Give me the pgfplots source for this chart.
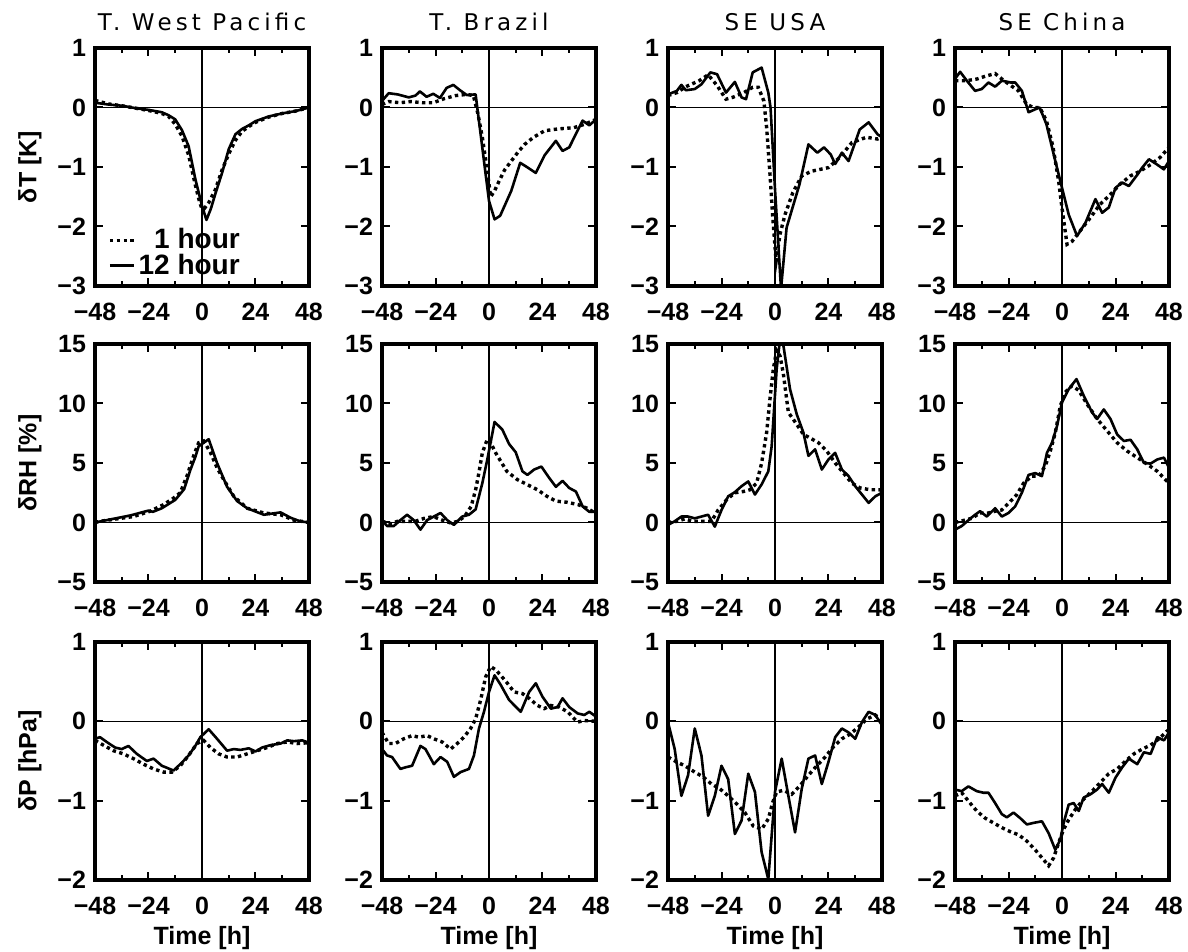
\documentclass[border=0pt]{standalone}
\usepackage{fontspec}
\setmainfont{Liberation Sans}
\newfontfamily\titlefont[LetterSpace=18]{DejaVu Sans}
\usepackage{pgfplots}
\pgfplotsset{compat=1.18}
\pgfplotsset{
  pan/.style={
    scale only axis, width=107pt, height=119pt, anchor=south west,
    xmin=-48, xmax=48,
    xtick={-48,-24,0,24,48}, xticklabels={−48,−24,0,24,48},
    minor xtick={-36,-12,12,36},
    tick align=inside,
    axis line style={line width=2.3pt},
    every tick/.style={black, line width=1pt},
    major tick length=4pt, minor tick length=2.5pt,
    /pgf/number format/assume math mode=true,
    ticklabel style={font=\fontsize{12.5}{14}\selectfont\bfseries},
    xticklabel style={yshift=-5pt},
    yticklabel style={xshift=-1pt},
    every axis title/.style={at={(0.5,1)}, anchor=center, yshift=13pt, font=\titlefont\fontsize{11.5}{13}\selectfont},
    every axis x label/.style={at={(0.5,0)}, anchor=center, yshift=-29pt, font=\fontsize{12.5}{14}\selectfont\bfseries},
    every axis y label/.style={at={(axis description cs:-0.3037,0.5)}, rotate=90, anchor=center, font=\fontsize{12.5}{14}\selectfont\bfseries},
  },
  solid12/.style={black, line width=1.3pt, line join=round},
  dot1/.style={black, line width=1.7pt, dash pattern=on 1.7pt off 1.7pt},
  zl/.style={black, line width=0.8pt, forget plot},
  rowT/.style={ymin=-3, ymax=1, ytick={-3,-2,-1,0,1}, yticklabels={−3,−2,−1,0,1}},
  rowRH/.style={ymin=-5, ymax=15, ytick={-5,0,5,10,15}, yticklabels={−5,0,5,10,15}},
  rowP/.style={ymin=-2, ymax=1, ytick={-2,-1,0,1}, yticklabels={−2,−1,0,1}},
}
\begin{document}
\begin{tikzpicture}
\path[use as bounding box] (0,0) rectangle (594pt,476pt);
% ---------------- Row 1: dT ----------------
\begin{axis}[pan, rowT, at={(47.5pt,333pt)}, title={T. West Pacific}, ylabel={δT [K]},
  legend style={at={(axis description cs:0.06,0.255)}, anchor=north west, draw=none, fill=none,
    font=\fontsize{14}{14}\selectfont\bfseries, row sep=-2pt, inner sep=0pt,
    nodes={inner sep=1.5pt}},
  legend cell align=right,
  legend image code/.code={\draw[#1] (0pt,0pt) -- (12pt,0pt);}]
\addplot[zl] coordinates {(0,-3) (0,1)};
\addplot[zl] coordinates {(-48,0) (48,0)};
\addplot[dot1] coordinates {(-48,0.12) (-42,0.06) (-36,0.03) (-30,-0.01) (-24,-0.05) (-18,-0.1) (-15,-0.15) (-12,-0.28) (-9,-0.48) (-6,-0.8) (-3,-1.3) (-1,-1.6) (0,-1.7) (1,-1.7) (3,-1.6) (6,-1.38) (9,-1.05) (12,-0.78) (15,-0.55) (18,-0.4) (21,-0.32) (24,-0.25) (30,-0.16) (36,-0.1) (42,-0.06) (48,0.0)};
\addlegendentry{1 hour}
\addplot[solid12] coordinates {(-48,0.08) (-42,0.05) (-36,0.03) (-30,-0.01) (-24,-0.04) (-18,-0.08) (-15,-0.13) (-12,-0.2) (-9,-0.38) (-6,-0.65) (-3,-1.2) (0,-1.65) (2,-1.89) (4,-1.7) (6,-1.45) (9,-1.1) (12,-0.7) (15,-0.45) (18,-0.36) (21,-0.3) (24,-0.23) (30,-0.15) (36,-0.1) (42,-0.06) (48,0.0)};
\addlegendentry{12 hour}
\end{axis}

\begin{axis}[pan, rowT, at={(191pt,333pt)}, title={T. Brazil}]
\addplot[zl] coordinates {(0,-3) (0,1)};
\addplot[zl] coordinates {(-48,0) (48,0)};
\addplot[dot1] coordinates {(-48,0.05) (-45,0.1) (-40,0.08) (-35,0.1) (-30,0.08) (-25,0.08) (-20,0.15) (-15,0.2) (-10,0.22) (-7,0.2) (-5,-0.1) (-3,-0.5) (-1,-1.0) (0.75,-1.5) (2.5,-1.4) (4.5,-1.24) (7,-1.05) (10,-0.9) (13,-0.75) (16,-0.62) (20,-0.5) (25,-0.39) (31,-0.36) (38,-0.34) (43,-0.28) (48,-0.2)};
\addplot[solid12] coordinates {(-48,0.11) (-45,0.24) (-41,0.22) (-36,0.17) (-33,0.2) (-31,0.27) (-28,0.18) (-25,0.23) (-22,0.16) (-19,0.33) (-16,0.38) (-13,0.29) (-10,0.21) (-6,0.22) (0,-1.57) (2.5,-1.88) (5,-1.82) (10,-1.4) (14,-0.93) (17,-1.0) (21,-1.1) (25,-0.8) (30,-0.56) (33,-0.73) (36,-0.67) (42,-0.22) (45,-0.3) (48,-0.2)};
\end{axis}

\begin{axis}[pan, rowT, at={(334pt,333pt)}, title={SE USA}]
\addplot[zl] coordinates {(0,-3) (0,1)};
\addplot[zl] coordinates {(-48,0) (48,0)};
\addplot[dot1] coordinates {(-48,0.2) (-44,0.25) (-40,0.35) (-34,0.45) (-30,0.55) (-26,0.37) (-22,0.14) (-19,0.17) (-14,0.25) (-10,0.34) (-7.5,0.34) (-5,0.11) (-3.75,-0.34) (-2.25,-1.12) (-1,-1.85) (0.5,-2.58) (2.25,-2.13) (4.5,-1.8) (8,-1.43) (12,-1.15) (16.5,-1.07) (24,-1.01) (29,-0.84) (34.5,-0.59) (41,-0.5) (46,-0.53) (48,-0.5)};
\addplot[solid12] coordinates {(-48,0.22) (-44,0.28) (-42,0.38) (-40,0.29) (-36,0.31) (-33,0.39) (-29,0.59) (-26,0.56) (-22,0.25) (-18,0.43) (-15,0.17) (-13,0.14) (-10,0.59) (-6,0.67) (-3,0.25) (-2,0.0) (0,-1.37) (2.7,-3.05) (5.2,-2.02) (11,-1.29) (15,-0.62) (19,-0.76) (22,-0.67) (25,-0.79) (27,-0.95) (30,-0.76) (33,-0.9) (38,-0.37) (42,-0.25) (46,-0.45) (48,-0.5)};
\end{axis}

\begin{axis}[pan, rowT, at={(477.5pt,333pt)}, title={SE China}]
\addplot[zl] coordinates {(0,-3) (0,1)};
\addplot[zl] coordinates {(-48,0) (48,0)};
\addplot[dot1] coordinates {(-48,0.45) (-43,0.45) (-38,0.48) (-34,0.53) (-30,0.57) (-26,0.45) (-23,0.37) (-19.5,0.28) (-16,0.06) (-13,0.0) (-10,0.0) (-7,-0.22) (-4,-0.67) (-1.5,-1.24) (0,-1.69) (2.25,-2.3) (4.5,-2.25) (8,-2.08) (12.75,-1.85) (17,-1.63) (21.75,-1.46) (26,-1.29) (30.7,-1.15) (35,-1.07) (39.75,-0.96) (44,-0.84) (48,-0.67)};
\addplot[solid12] coordinates {(-48,0.48) (-45.7,0.6) (-42.7,0.45) (-39,0.28) (-36,0.31) (-33,0.42) (-30,0.35) (-27,0.45) (-23,0.42) (-21,0.42) (-18,0.28) (-15,-0.08) (-12,-0.03) (-10,0.0) (-7,-0.28) (-3,-0.9) (0,-1.35) (3,-1.8) (6.75,-2.16) (10.5,-1.94) (15,-1.54) (18,-1.77) (21,-1.68) (24,-1.35) (27,-1.26) (30,-1.32) (34,-1.12) (36,-1.01) (39,-0.87) (42.7,-0.96) (45.7,-1.04) (48,-0.9)};
\end{axis}

% ---------------- Row 2: dRH ----------------
\begin{axis}[pan, rowRH, at={(47.5pt,185pt)}, ylabel={δRH [\%]}]
\addplot[zl] coordinates {(0,-5) (0,15)};
\addplot[zl] coordinates {(-48,0) (48,0)};
\addplot[dot1] coordinates {(-48,0) (-45.75,0.1) (-38.25,0.3) (-30.75,0.5) (-23.25,0.95) (-17.25,1.5) (-12.75,2.05) (-9.75,2.5) (-6.75,3.9) (-3.75,5.6) (-1.5,6.7) (0.75,6.85) (3.75,5.9) (6.75,4.6) (9.75,3.6) (14.25,2.2) (20.25,1.2) (27.75,0.8) (35.25,0.65) (41.25,0.2) (48,0)};
\addplot[solid12] coordinates {(-48,0) (-40,0.3) (-32,0.6) (-24,1.0) (-22,0.9) (-18,1.2) (-12,1.9) (-8,2.8) (-5.25,4.4) (-3,5.5) (-1.5,6.4) (3,7.0) (6.75,5.0) (11.25,3.0) (15.75,1.8) (20.25,1.2) (27.75,0.65) (35.25,0.85) (39.75,0.4) (44,0.1) (48,0.0)};
\end{axis}

\begin{axis}[pan, rowRH, at={(191pt,185pt)}]
\addplot[zl] coordinates {(0,-5) (0,15)};
\addplot[zl] coordinates {(-48,0) (48,0)};
\addplot[dot1] coordinates {(-48,0.1) (-44,-0.1) (-41,0.1) (-37,0.1) (-33,0.1) (-29,0.35) (-25,0.5) (-21,0.2) (-17,-0.05) (-14,0.1) (-11,0.5) (-8,1.35) (-6,2.75) (-4.5,4.2) (-3,5.85) (-0.75,7.0) (0.75,6.7) (3,5.85) (5.25,5.15) (8,4.3) (12.75,3.6) (17,3.2) (21.75,2.75) (26,2.2) (30,1.8) (35,1.7) (40,1.5) (44,1.2) (48,0.75)};
\addplot[solid12] coordinates {(-48,0.2) (-45.7,-0.3) (-42.75,-0.3) (-39.75,0.2) (-36.75,0.65) (-33.75,0.2) (-30.75,-0.6) (-27.75,0.2) (-24.75,0.5) (-21.75,0.8) (-18.75,0.2) (-15.75,-0.2) (-12,0.5) (-9,0.65) (-6,1.1) (-3,3.3) (-0.75,5.3) (2.5,8.45) (6,7.8) (9,6.6) (12,5.9) (15,4.3) (17.25,4.0) (20.25,4.45) (23.5,4.7) (27,3.75) (30,3.0) (33,3.5) (36,2.9) (39,2.6) (42,1.35) (45,0.9) (48,0.9)};
\end{axis}

\begin{axis}[pan, rowRH, at={(334pt,185pt)}]
\addplot[zl] coordinates {(0,-5) (0,15)};
\addplot[zl] coordinates {(-48,0) (48,0)};
\addplot[dot1] coordinates {(-48,0) (-44,0.1) (-40.5,0.3) (-36.75,0.1) (-33,0.1) (-28.5,0.1) (-25.5,1.05) (-21.75,1.9) (-18,2.5) (-14.25,2.6) (-11.25,2.75) (-8.25,3.3) (-6,5.0) (-3.75,7.55) (-2.25,10.4) (-0.75,12.9) (0.75,14.45) (2.25,14.0) (3.75,12.5) (6,9.25) (9.75,8.25) (12.75,7.4) (15.75,7.1) (19.5,6.7) (23.25,6.0) (27,5.0) (30.75,4.15) (34.5,3.3) (38.25,2.9) (42.75,2.75) (46.5,2.75) (48,2.7)};
\addplot[solid12] coordinates {(-48,-0.2) (-45,0.1) (-42,0.5) (-39,0.5) (-36,0.35) (-33,0.5) (-30,0.65) (-27,-0.35) (-24,1.05) (-21,2.2) (-18,2.55) (-15,3.05) (-12,3.45) (-9,2.35) (-6,3.2) (-3,4.3) (-1.5,6.4) (0.75,12.9) (2.25,15.4) (3.75,14.9) (6.75,11.2) (9.75,9.1) (12.75,7.55) (15,5.6) (18,6.15) (21,4.45) (24,5.3) (27,5.85) (30,4.45) (33,3.9) (36,3.05) (39,2.35) (42,1.65) (45,2.2) (48,2.5)};
\end{axis}

\begin{axis}[pan, rowRH, at={(477.5pt,185pt)}]
\addplot[zl] coordinates {(0,-5) (0,15)};
\addplot[zl] coordinates {(-48,0) (48,0)};
\addplot[dot1] coordinates {(-48,0) (-43.5,0.2) (-40.5,0.35) (-36.75,0.8) (-33,0.8) (-30,0.95) (-27,1.05) (-23.25,1.75) (-20.25,2.35) (-17.25,3.3) (-13.5,3.9) (-10.5,3.9) (-7.5,4.75) (-5.25,6.0) (-3,7.55) (-0.75,9.8) (1.5,10.95) (4.5,11.5) (7.5,11.1) (11.25,9.95) (15.75,8.7) (20.25,7.7) (24.75,6.7) (29.25,6.0) (33.75,5.45) (38.25,4.9) (42.75,4.3) (48,3.3)};
\addplot[solid12] coordinates {(-48,-0.6) (-45,-0.3) (-41,0.35) (-39,0.65) (-36.75,0.95) (-33.75,0.5) (-30,1.2) (-27,0.5) (-24,0.8) (-21,1.35) (-18,2.5) (-15,4.0) (-12,4.15) (-9,3.9) (-6.75,5.85) (-4.5,6.7) (-2.25,8.1) (0,10.1) (3,11.2) (6.5,12.05) (9.75,10.65) (13.5,9.25) (15.75,8.7) (18.75,9.5) (21.75,8.7) (24.75,7.4) (27.75,6.85) (30.75,6.95) (33.75,6.15) (36.75,5.0) (39.75,4.95) (42.75,5.3) (45.75,5.45) (48,4.6)};
\end{axis}

% ---------------- Row 3: dP ----------------
\begin{axis}[pan, rowP, at={(47.5pt,36pt)}, ylabel={δP [hPa]}, xlabel={Time [h]}]
\addplot[zl] coordinates {(0,-2) (0,1)};
\addplot[zl] coordinates {(-48,0) (48,0)};
\addplot[dot1] coordinates {(-48,-0.24) (-44.25,-0.3) (-39.75,-0.37) (-35.25,-0.41) (-30.75,-0.47) (-26.25,-0.54) (-21.75,-0.6) (-17.25,-0.64) (-13.5,-0.64) (-9.75,-0.56) (-6,-0.43) (-2.25,-0.28) (0.75,-0.24) (3.75,-0.33) (7.5,-0.41) (11.25,-0.45) (15.75,-0.45) (20.25,-0.41) (24.75,-0.37) (29.25,-0.33) (33.75,-0.28) (38.25,-0.26) (42.75,-0.28) (48,-0.27)};
\addplot[solid12] coordinates {(-48,-0.22) (-45.75,-0.2) (-42.75,-0.26) (-39,-0.33) (-36,-0.35) (-33,-0.31) (-29.25,-0.41) (-24.75,-0.5) (-21.75,-0.47) (-18,-0.56) (-12.75,-0.62) (-9,-0.52) (-6,-0.43) (-3,-0.31) (-0.75,-0.2) (3,-0.1) (6.75,-0.22) (11.25,-0.37) (14.25,-0.35) (17.25,-0.36) (21,-0.34) (24,-0.38) (27,-0.33) (30.75,-0.3) (35.25,-0.28) (38.25,-0.24) (41.25,-0.25) (45,-0.24) (48,-0.27)};
\end{axis}

\begin{axis}[pan, rowP, at={(191pt,36pt)}, xlabel={Time [h]}]
\addplot[zl] coordinates {(0,-2) (0,1)};
\addplot[zl] coordinates {(-48,0) (48,0)};
\addplot[dot1] coordinates {(-48,-0.14) (-45,-0.28) (-42,-0.28) (-38.25,-0.22) (-34.5,-0.18) (-31.5,-0.2) (-27.75,-0.18) (-24.75,-0.22) (-21,-0.26) (-17.25,-0.35) (-14.25,-0.28) (-11.25,-0.2) (-8.25,-0.09) (-6,0.03) (-3.75,0.27) (-1.5,0.56) (0.75,0.69) (3,0.65) (5.25,0.58) (8.25,0.48) (11.25,0.37) (15,0.35) (18,0.29) (21.75,0.2) (24.75,0.16) (27.75,0.2) (31.5,0.18) (35.25,0.12) (39.75,-0.01) (42.75,0.01) (48,0.0)};
\addplot[solid12] coordinates {(-48,-0.35) (-45.75,-0.43) (-43.5,-0.45) (-39.75,-0.6) (-37.5,-0.58) (-34.5,-0.56) (-30.75,-0.31) (-28.5,-0.35) (-24.75,-0.54) (-21.75,-0.45) (-18.75,-0.51) (-15.75,-0.7) (-12.75,-0.64) (-9,-0.6) (-6.75,-0.43) (-4.5,-0.09) (-2.25,0.12) (0,0.37) (2.5,0.58) (5.25,0.46) (9,0.27) (14.25,0.12) (18,0.37) (21,0.48) (24,0.31) (27.75,0.16) (30.75,0.18) (33,0.29) (36,0.18) (39.75,0.1) (42.75,0.08) (45,0.12) (48,0.06)};
\end{axis}

\begin{axis}[pan, rowP, at={(334pt,36pt)}, xlabel={Time [h]}]
\addplot[zl] coordinates {(0,-2) (0,1)};
\addplot[zl] coordinates {(-48,0) (48,0)};
\addplot[dot1] coordinates {(-48,-0.45) (-44.25,-0.51) (-40.5,-0.56) (-36,-0.64) (-32.25,-0.7) (-28.5,-0.79) (-24.75,-0.85) (-21,-0.94) (-17.25,-1.04) (-13.5,-1.15) (-9.75,-1.32) (-6,-1.36) (-3,-1.23) (-1,-1.02) (0.75,-0.89) (3.75,-0.87) (7.5,-0.92) (11.25,-0.81) (15,-0.68) (18.75,-0.56) (22.5,-0.45) (26.25,-0.32) (30,-0.22) (33.75,-0.16) (37.5,-0.07) (41.25,0.03) (45,0.08) (48,0.0)};
\addplot[solid12] coordinates {(-48,-0.01) (-45,-0.35) (-42,-0.94) (-39,-0.68) (-36,-0.09) (-33,-0.43) (-30,-1.19) (-27,-0.94) (-24,-0.56) (-21,-0.73) (-18,-1.42) (-15,-1.25) (-12,-0.66) (-9,-0.89) (-6,-1.65) (-3,-1.99) (0,-0.89) (3,-0.47) (6,-0.94) (9,-1.4) (12,-0.85) (15,-0.47) (18,-0.43) (21,-0.79) (24,-0.51) (27,-0.2) (30,-0.09) (33,-0.14) (36,-0.22) (39,-0.01) (42,0.12) (45,0.08) (48,-0.05)};
\end{axis}

\begin{axis}[pan, rowP, at={(477.5pt,36pt)}, xlabel={Time [h]}]
\addplot[zl] coordinates {(0,-2) (0,1)};
\addplot[zl] coordinates {(-48,0) (48,0)};
\addplot[dot1] coordinates {(-48,-0.94) (-45,-0.9) (-41.25,-1.03) (-38.25,-1.13) (-34.5,-1.22) (-30.75,-1.28) (-27,-1.34) (-23.25,-1.39) (-19.5,-1.43) (-15.75,-1.51) (-12,-1.62) (-9,-1.72) (-6,-1.82) (-3.75,-1.72) (-1.5,-1.53) (0.75,-1.36) (3,-1.24) (6,-1.11) (9.75,-0.98) (13.5,-0.88) (17.25,-0.77) (21,-0.66) (24.75,-0.6) (28.5,-0.5) (32.25,-0.41) (36,-0.35) (39.75,-0.3) (43.5,-0.22) (48,-0.1)};
\addplot[solid12] coordinates {(-48,-0.86) (-45,-0.88) (-42,-0.82) (-38.25,-0.88) (-35.25,-0.9) (-33,-0.9) (-30,-1.03) (-27,-1.17) (-24.75,-1.21) (-21.75,-1.15) (-18.75,-1.22) (-15.75,-1.3) (-12.75,-1.28) (-9,-1.26) (-6,-1.41) (-3,-1.62) (-0.75,-1.49) (0.75,-1.28) (3,-1.05) (5.25,-1.03) (7.5,-1.13) (9.75,-0.96) (12.75,-0.92) (15.75,-0.86) (18,-0.79) (21,-0.9) (24,-0.71) (27,-0.58) (30,-0.47) (33.75,-0.54) (36.75,-0.39) (39.75,-0.41) (42.75,-0.2) (45.75,-0.24) (48,-0.14)};
\end{axis}
\end{tikzpicture}
\end{document}
